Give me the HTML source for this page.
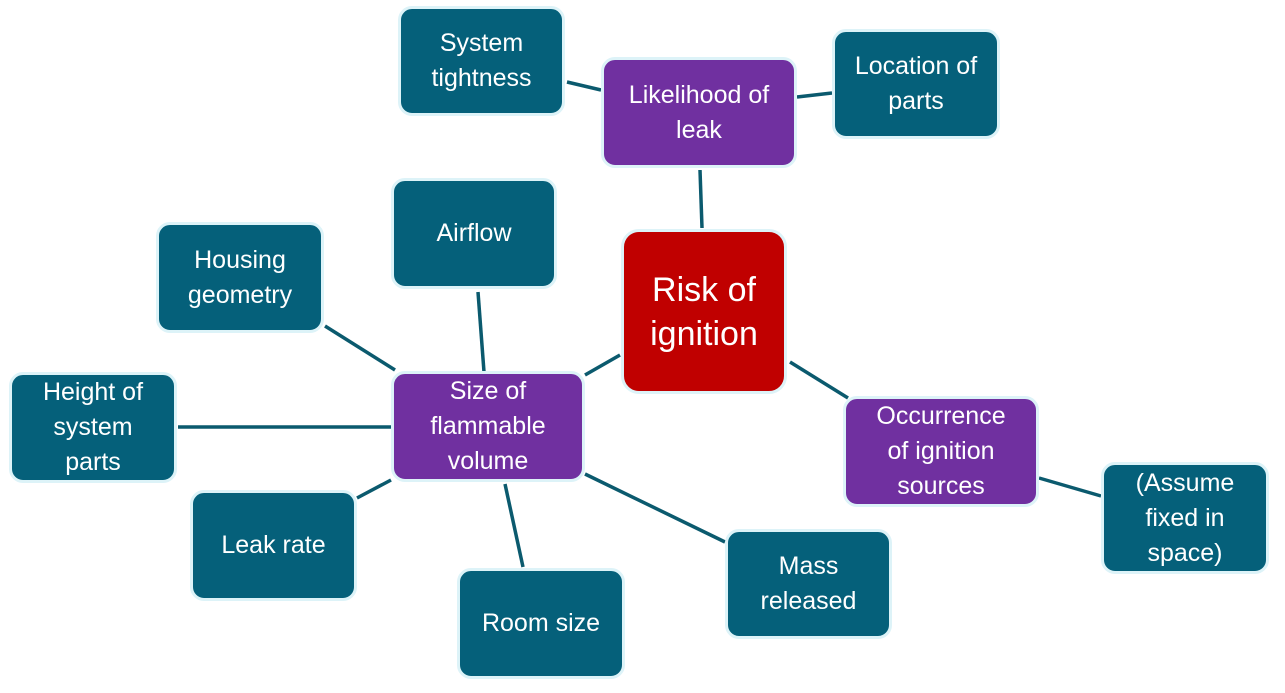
<!DOCTYPE html>
<html><head><style>
html,body{margin:0;padding:0;background:#fff;width:1285px;height:693px;overflow:hidden;position:relative;font-family:"Liberation Sans",sans-serif}
.b{position:absolute;box-sizing:border-box;border:3px solid #ddf3f8;border-radius:14px;background:#05607a;color:#fff;display:flex;align-items:center;justify-content:center;text-align:center;font-size:25px;line-height:35px}
.p{background:#7030a0}
.r{background:#c00000;font-size:34px;line-height:44px;border-radius:18px}
svg{position:absolute;left:0;top:0}
</style></head><body>
<svg width="1285" height="693"><g stroke="#0b5a6e" stroke-width="3.5">
<line x1="567" y1="82" x2="601" y2="90"/>
<line x1="797" y1="97" x2="832" y2="93"/>
<line x1="700" y1="170" x2="702" y2="228"/>
<line x1="478" y1="292" x2="484" y2="372"/>
<line x1="325" y1="326" x2="395" y2="370"/>
<line x1="585" y1="375" x2="620" y2="355"/>
<line x1="790" y1="362" x2="848" y2="398"/>
<line x1="178" y1="427" x2="391" y2="427"/>
<line x1="357" y1="498" x2="391" y2="480"/>
<line x1="505" y1="484" x2="523" y2="567"/>
<line x1="585" y1="474" x2="725" y2="542"/>
<line x1="1039" y1="478" x2="1101" y2="496"/>
</g></svg>
<div class="b" style="left:398px;top:6px;width:167px;height:110px">System<br>tightness</div>
<div class="b p" style="left:601px;top:57px;width:196px;height:111px">Likelihood of<br>leak</div>
<div class="b" style="left:832px;top:29px;width:168px;height:110px">Location of<br>parts</div>
<div class="b" style="left:391px;top:178px;width:166px;height:111px">Airflow</div>
<div class="b r" style="left:621px;top:229px;width:166px;height:165px">Risk of<br>ignition</div>
<div class="b" style="left:156px;top:222px;width:168px;height:111px">Housing<br>geometry</div>
<div class="b p" style="left:391px;top:371px;width:194px;height:111px">Size of<br>flammable<br>volume</div>
<div class="b" style="left:9px;top:372px;width:168px;height:111px">Height of<br>system<br>parts</div>
<div class="b p" style="left:843px;top:396px;width:196px;height:111px">Occurrence<br>of ignition<br>sources</div>
<div class="b" style="left:190px;top:490px;width:167px;height:111px">Leak rate</div>
<div class="b" style="left:457px;top:568px;width:168px;height:111px">Room size</div>
<div class="b" style="left:725px;top:529px;width:167px;height:110px">Mass<br>released</div>
<div class="b" style="left:1101px;top:462px;width:168px;height:112px">(Assume<br>fixed in<br>space)</div>
</body></html>
